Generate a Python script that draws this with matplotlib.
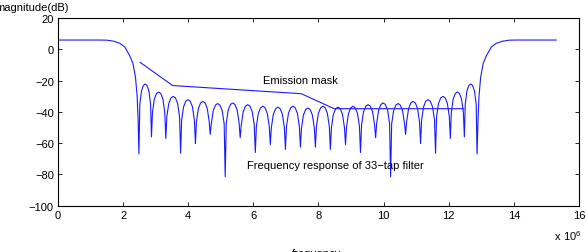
import matplotlib
matplotlib.use("Agg")
import matplotlib.pyplot as plt

# frequency response of the 33-tap filter (MHz, dB)
freq_mhz = [
    0.0, 1.3, 1.5, 1.7, 1.9, 2.05, 2.2, 2.3, 2.38, 2.43, 2.46, 2.485,
    2.512, 2.562, 2.620, 2.678, 2.735, 2.793, 2.843, 2.87,
    2.901, 2.958, 3.024, 3.090, 3.156, 3.222, 3.279, 3.31,
    3.342, 3.401, 3.469, 3.538, 3.606, 3.674, 3.733, 3.765,
    3.797, 3.856, 3.924, 3.993, 4.061, 4.129, 4.188, 4.22,
    4.252, 4.311, 4.379, 4.448, 4.516, 4.584, 4.643, 4.675,
    4.707, 4.767, 4.836, 4.905, 4.974, 5.043, 5.103, 5.135,
    5.167, 5.227, 5.296, 5.365, 5.434, 5.503, 5.563, 5.595,
    5.628, 5.688, 5.758, 5.828, 5.897, 5.967, 6.027, 6.06,
    6.092, 6.152, 6.221, 6.290, 6.359, 6.428, 6.488, 6.52,
    6.553, 6.613, 6.683, 6.753, 6.822, 6.892, 6.952, 6.985,
    7.017, 7.077, 7.146, 7.215, 7.284, 7.353, 7.413, 7.445,
    7.477, 7.537, 7.606, 7.675, 7.744, 7.813, 7.873, 7.905,
    7.937, 7.997, 8.066, 8.135, 8.204, 8.273, 8.333, 8.365,
    8.398, 8.458, 8.528, 8.598, 8.667, 8.737, 8.797, 8.83,
    8.862, 8.922, 8.991, 9.060, 9.129, 9.198, 9.258, 9.29,
    9.323, 9.383, 9.453, 9.523, 9.592, 9.662, 9.722, 9.755,
    9.787, 9.847, 9.916, 9.985, 10.054, 10.123, 10.183, 10.215,
    10.247, 10.307, 10.376, 10.445, 10.514, 10.583, 10.643, 10.675,
    10.707, 10.767, 10.836, 10.905, 10.974, 11.043, 11.103, 11.135,
    11.167, 11.227, 11.296, 11.365, 11.434, 11.503, 11.563, 11.595,
    11.627, 11.686, 11.754, 11.823, 11.891, 11.959, 12.018, 12.05,
    12.080, 12.136, 12.201, 12.265, 12.330, 12.394, 12.450, 12.48,
    12.507, 12.558, 12.617, 12.675, 12.734, 12.792, 12.843, 12.87,
    12.9, 12.93, 12.98, 13.06, 13.16, 13.31, 13.46, 13.66, 13.86, 14.06, 15.3,
]
mag_db = [
    5.9, 5.9, 5.8, 5.2, 3.8, 1.5, -4.0, -9.0, -18.0, -30.0, -45.0, -67.0,
    -35.2, -26.8, -23.2, -22.2, -23.2, -26.8, -35.2, -56.0,
    -40.3, -31.9, -28.3, -27.3, -28.3, -31.9, -40.3, -57.0,
    -43.1, -34.7, -31.1, -30.1, -31.1, -34.7, -43.1, -66.5,
    -45.2, -36.8, -33.2, -32.2, -33.2, -36.8, -45.2, -60.3,
    -46.3, -37.9, -34.3, -33.3, -34.3, -37.9, -46.3, -54.4,
    -47.7, -39.3, -35.7, -34.7, -35.7, -39.3, -47.7, -81.5,
    -47.3, -38.9, -35.3, -34.3, -35.3, -38.9, -47.3, -56.5,
    -48.4, -40.0, -36.4, -35.4, -36.4, -40.0, -48.4, -66.0,
    -49.4, -41.0, -37.4, -36.4, -37.4, -41.0, -49.4, -61.0,
    -50.0, -41.6, -38.0, -37.0, -38.0, -41.6, -50.0, -64.0,
    -49.4, -41.0, -37.4, -36.4, -37.4, -41.0, -49.4, -62.5,
    -50.5, -42.1, -38.5, -37.5, -38.5, -42.1, -50.5, -62.5,
    -49.4, -41.0, -37.4, -36.4, -37.4, -41.0, -49.4, -64.0,
    -50.0, -41.6, -38.0, -37.0, -38.0, -41.6, -50.0, -61.0,
    -49.4, -41.0, -37.4, -36.4, -37.4, -41.0, -49.4, -66.0,
    -48.4, -40.0, -36.4, -35.4, -36.4, -40.0, -48.4, -56.5,
    -47.3, -38.9, -35.3, -34.3, -35.3, -38.9, -47.3, -81.5,
    -47.7, -39.3, -35.7, -34.7, -35.7, -39.3, -47.7, -54.4,
    -46.3, -37.9, -34.3, -33.3, -34.3, -37.9, -46.3, -60.3,
    -45.2, -36.8, -33.2, -32.2, -33.2, -36.8, -45.2, -66.5,
    -43.1, -34.7, -31.1, -30.1, -31.1, -34.7, -43.1, -57.0,
    -40.3, -31.9, -28.3, -27.3, -28.3, -31.9, -40.3, -56.0,
    -35.2, -26.8, -23.2, -22.2, -23.2, -26.8, -35.2, -67.0,
    -45.0, -30.0, -18.0, -9.0, -4.0, 1.5, 3.8, 5.2, 5.8, 5.9, 5.9,
]

# emission mask corners
mask_freq = [2.52, 3.52, 7.47, 8.48, 12.46]
mask_db = [-8.3, -23.2, -28.4, -38.0, -38.0]

xticks = [0, 2, 4, 6, 8, 10, 12, 14, 16]
yticks = [-100, -80, -60, -40, -20, 0, 20]

plt.rcParams["font.family"] = ["Liberation Sans", "DejaVu Sans"]
plt.rcParams["font.size"] = 8

fig = plt.figure(figsize=(5.86, 2.53), dpi=100)
ax = fig.add_axes([0.099, 0.183, 0.889, 0.742])

ax.plot(freq_mhz, mag_db, color="#1a1aff", lw=0.8)
ax.plot(mask_freq, mask_db, color="#1a1aff", lw=0.8)

ax.set_xlim(0, 16)
ax.set_ylim(-100, 20)
ax.set_xticks(xticks)
ax.set_yticks(yticks)
ax.set_xticklabels([str(t) for t in xticks])
ax.set_yticklabels([str(t).replace("-", "\u2212") for t in yticks])
ax.tick_params(direction="in", top=True, right=True, length=3, width=0.6, pad=3)
for sp in ax.spines.values():
    sp.set_linewidth(0.8)

ax.text(6.29, -19.5, "Emission mask", va="center", ha="left")
ax.text(5.81, -73.7, "Frequency response of 33\u2212tap filter", va="center", ha="left")

fig.text(69 / 586, 1 - 8 / 253, "magnitude(dB)", ha="right", va="center")
fig.text(554 / 586, 1 - 236 / 253, r"$\mathregular{x\ 10^{6}}$", ha="left", va="center")
fig.text(317 / 586, 1 - 249 / 253, "frequency", ha="center", va="top")

fig.savefig("out.png", dpi=100)
